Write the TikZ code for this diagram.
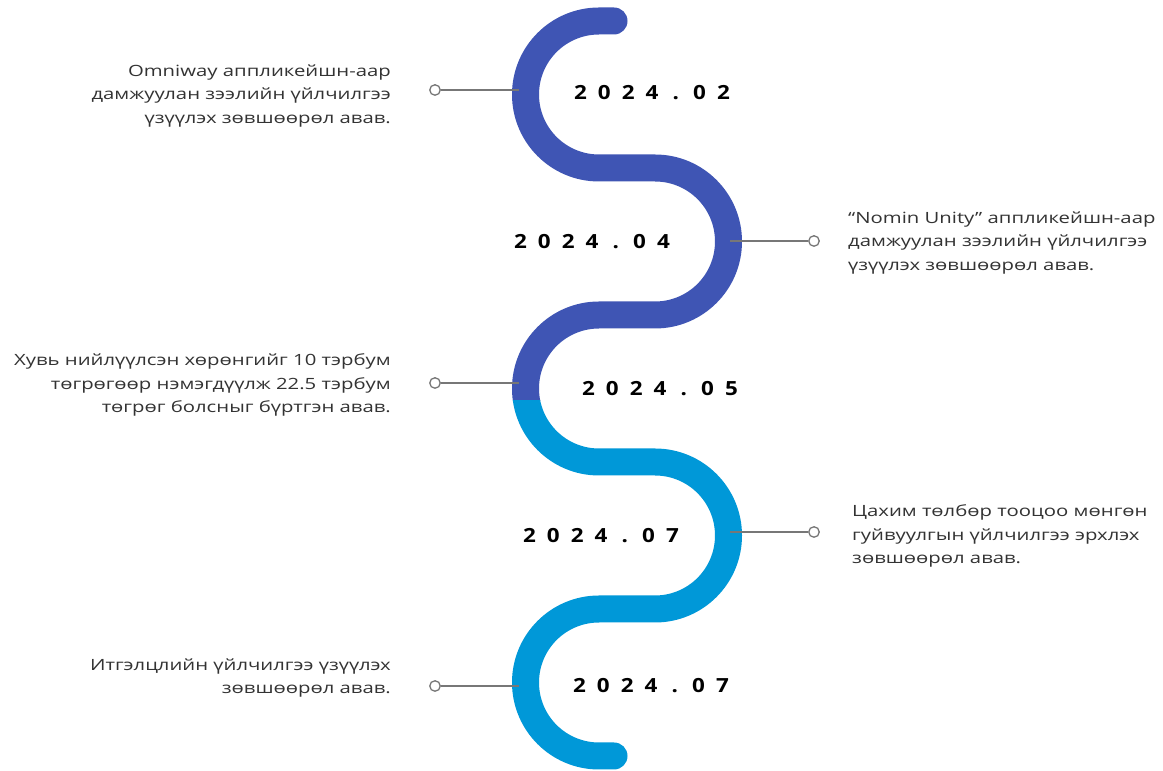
\documentclass[tikz,border=0pt]{standalone}
\usepackage{fontspec}
\setmainfont{Open Sans}
\newfontfamily\descfont[FakeStretch=1.31]{Open Sans}
\newfontfamily\datefont[FakeStretch=1.15]{Open Sans}
\definecolor{snakeA}{HTML}{3F55B4}
\definecolor{snakeB}{HTML}{0098D8}
\definecolor{connGray}{HTML}{777777}
\definecolor{txtGray}{HTML}{333333}
\newcommand\dchar[1]{\makebox[23.8pt]{#1}}
\tikzset{
  snakeline/.style={line width=27pt, line cap=round},
  conn/.style={draw=connGray, line width=1.4pt},
  dot/.style={circle, draw=connGray, fill=white, line width=1.3pt, minimum size=10.5pt, inner sep=0pt},
  desc/.style={text=txtGray, inner sep=0pt, font=\descfont\fontsize{15.5pt}{23.5pt}\selectfont},
  datelbl/.style={inner sep=0pt, text=black, font=\datefont\fontsize{19.5pt}{24pt}\selectfont\bfseries}
}
\begin{document}
\begin{tikzpicture}[x=1pt,y=1pt]
\useasboundingbox[fill=white] (0,0) rectangle (1163,771);
\def\snakepath{(614,750) -- (599,750) arc[start angle=90, end angle=270, radius=73.5]
  -- (655,603) arc[start angle=90, end angle=-90, radius=73.5]
  -- (599,456) arc[start angle=90, end angle=270, radius=73.5]
  -- (655,309) arc[start angle=90, end angle=-90, radius=73.5]
  -- (599,162) arc[start angle=90, end angle=270, radius=73.5]
  -- (614,15)}
\begin{scope}
  \clip (0,370) rectangle (1163,771);
  \draw[snakeline, draw=snakeA] \snakepath;
\end{scope}
\begin{scope}
  \clip (0,0) rectangle (1163,370);
  \draw[snakeline, draw=snakeB] \snakepath;
\end{scope}
% connectors
\coordinate (e1) at (519,681);
\coordinate (e2) at (730,530);
\coordinate (e3) at (519,388);
\coordinate (e4) at (730,239);
\coordinate (e5) at (519,85);
\node[dot] (c1) at (435,681) {};
\node[dot] (c2) at (814,530) {};
\node[dot] (c3) at (435,388) {};
\node[dot] (c4) at (814,239) {};
\node[dot] (c5) at (435,85) {};
\draw[conn] (c1) -- (e1);
\draw[conn] (e2) -- (c2);
\draw[conn] (c3) -- (e3);
\draw[conn] (e4) -- (c4);
\draw[conn] (c5) -- (e5);
% descriptions
\node[desc, anchor=east, align=right] (t1) at (391,675) {Omniway аппликейшн-аар\\дамжуулан зээлийн үйлчилгээ\\үзүүлэх зөвшөөрөл авав.};
\node[desc, anchor=west, align=left] (t2) at (848,528) {“Nomin Unity” аппликейшн-аар\\дамжуулан зээлийн үйлчилгээ\\үзүүлэх зөвшөөрөл авав.};
\node[desc, anchor=east, align=right] (t3) at (391,386) {Хувь нийлүүлсэн хөрөнгийг 10 тэрбум\\төгрөгөөр нэмэгдүүлж 22.5 тэрбум\\төгрөг болсныг бүртгэн авав.};
\node[desc, anchor=west, align=left] (t4) at (852,235) {Цахим төлбөр тооцоо мөнгөн\\гуйвуулгын үйлчилгээ эрхлэх\\зөвшөөрөл авав.};
\node[desc, anchor=east, align=right] (t5) at (391,93) {Итгэлцлийн үйлчилгээ үзүүлэх\\зөвшөөрөл авав.};
% dates
\node[datelbl] (d1) at (652,678) {\dchar2\dchar0\dchar2\dchar4\dchar.\dchar0\dchar2};
\node[datelbl] (d2) at (592,529) {\dchar2\dchar0\dchar2\dchar4\dchar.\dchar0\dchar4};
\node[datelbl] (d3) at (660,382) {\dchar2\dchar0\dchar2\dchar4\dchar.\dchar0\dchar5};
\node[datelbl] (d4) at (601,235) {\dchar2\dchar0\dchar2\dchar4\dchar.\dchar0\dchar7};
\node[datelbl] (d5) at (651,85) {\dchar2\dchar0\dchar2\dchar4\dchar.\dchar0\dchar7};
\end{tikzpicture}
\end{document}
